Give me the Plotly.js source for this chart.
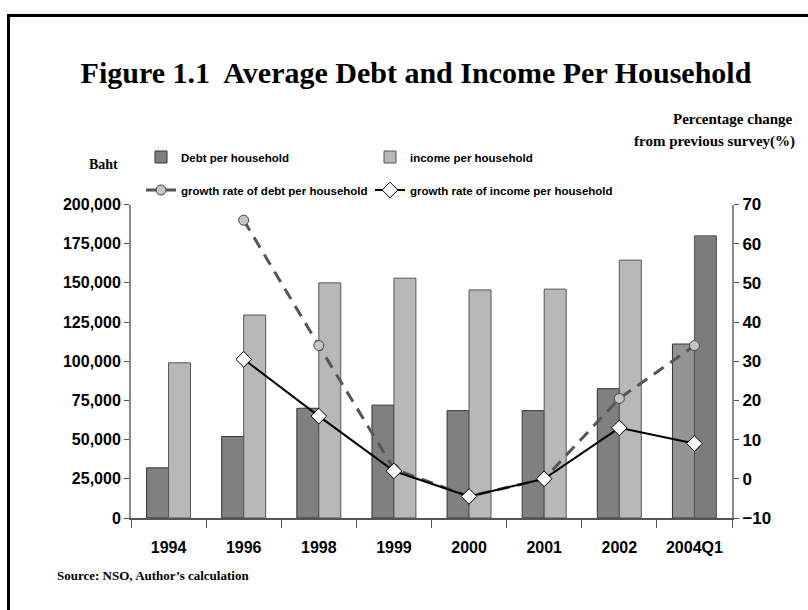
<!DOCTYPE html>
<html>
<head>
<meta charset="utf-8">
<script src="https://cdn.plot.ly/plotly-3.0.1.min.js"></script>
<style>
  html, body { margin: 0; padding: 0; background: #fff; overflow: hidden; }
  #wrap { position: relative; width: 808px; height: 610px; }
  #chart { position: absolute; left: 0; top: 0; width: 808px; height: 610px; }
  #frame { position: absolute; left: 7px; top: 14px; width: 900px; height: 900px;
           border-left: 3px solid #000; border-top: 3px solid #000; pointer-events: none; }
</style>
</head>
<body>
<div id="wrap">
  <div id="chart"></div>
  <div id="frame"></div>
</div>
<script>
// ---- data ----
const categories = ['1994', '1996', '1998', '1999', '2000', '2001', '2002', '2004Q1'];
const debtPerHousehold = [32000, 52000, 70000, 72000, 68500, 68500, 82500, 111000];
const incomePerHousehold = [99000, 129500, 150000, 153000, 145500, 146000, 164500, 180000];
const debtGrowth = [null, 66, 34, 2.5, -4.5, 0, 20.5, 34];
const incomeGrowth = [null, 30.5, 16, 2, -4.5, 0, 13, 9];
const leftTicks = [0, 25000, 50000, 75000, 100000, 125000, 150000, 175000, 200000];
const rightTicks = [-10, 0, 10, 20, 30, 40, 50, 60, 70];

const lastIdx = categories.length - 1;
const debtColors = categories.map((c, i) => i === lastIdx ? '#ababab' : '#808080');
const incomeColors = categories.map((c, i) => i === lastIdx ? '#8c8c8c' : '#b8b8b8');
const patternShapes = categories.map((c, i) => i === lastIdx ? '.' : '');
const debtPatternFg = categories.map((c, i) => i === lastIdx ? '#959595' : '#808080');
const incomePatternFg = categories.map((c, i) => i === lastIdx ? '#7a7a7a' : '#b8b8b8');

const sans = 'Liberation Sans, Arial, sans-serif';
const serif = 'Liberation Serif, Times New Roman, serif';

const traces = [
  {
    type: 'bar', name: 'Debt per household', x: categories, y: debtPerHousehold,
    marker: { color: debtColors, line: { color: '#333', width: 1 },
              pattern: { shape: patternShapes, bgcolor: debtColors, fgcolor: debtPatternFg,
                         fillmode: 'overlay', size: 2, solidity: 0.5 } },
    legend: 'legend', hoverinfo: 'skip'
  },
  {
    type: 'bar', name: 'income per household', x: categories, y: incomePerHousehold,
    marker: { color: incomeColors, line: { color: '#555', width: 1 },
              pattern: { shape: patternShapes, bgcolor: incomeColors, fgcolor: incomePatternFg,
                         fillmode: 'overlay', size: 2, solidity: 0.5 } },
    legend: 'legend2', hoverinfo: 'skip'
  },
  {
    type: 'scatter', mode: 'lines+markers', name: 'growth rate of debt per household',
    x: categories, y: debtGrowth, yaxis: 'y2',
    line: { color: '#555', width: 3, dash: '12px,8px' },
    marker: { symbol: 'circle', size: 10, color: '#c4c4c4', line: { color: '#444', width: 1 } },
    legend: 'legend3', hoverinfo: 'skip'
  },
  {
    type: 'scatter', mode: 'lines+markers', name: 'growth rate of income per household',
    x: categories, y: incomeGrowth, yaxis: 'y2',
    line: { color: '#000', width: 2 },
    marker: { symbol: 'diamond', size: 12, color: '#fff', line: { color: '#000', width: 1 } },
    legend: 'legend4', hoverinfo: 'skip'
  }
];

const legendCommon = {
  orientation: 'h', xref: 'container', yref: 'container', xanchor: 'left', yanchor: 'middle',
  bgcolor: 'rgba(0,0,0,0)', borderwidth: 0,
  font: { family: sans, size: 11.5, color: '#000', weight: 'bold' }, itemclick: false
};

const layout = {
  width: 808, height: 610,
  margin: { l: 131, r: 76, t: 199, b: 92 },
  paper_bgcolor: '#fff', plot_bgcolor: '#fff',
  barmode: 'group', bargap: 0.415, bargroupgap: 0,
  showlegend: true,
  title: {
    text: '<b>Figure 1.1  Average Debt and Income Per Household</b>',
    xref: 'container', yref: 'container', x: 416 / 808, xanchor: 'center',
    y: 1 - 72 / 610, yanchor: 'middle',
    font: { family: serif, size: 30, color: '#000' }
  },
  legend: Object.assign({}, legendCommon, { x: 141 / 808, y: 1 - 157 / 610 }),
  legend2: Object.assign({}, legendCommon, { x: 370 / 808, y: 1 - 157 / 610 }),
  legend3: Object.assign({}, legendCommon, { x: 141 / 808, y: 1 - 190 / 610 }),
  legend4: Object.assign({}, legendCommon, { x: 370 / 808, y: 1 - 190 / 610 }),
  xaxis: {
    type: 'category', categoryorder: 'array', categoryarray: categories,
    showgrid: false, zeroline: false,
    showline: true, linecolor: '#555', linewidth: 1.5,
    ticks: 'outside', tickson: 'boundaries', ticklen: 8, tickcolor: '#555', tickwidth: 1,
    ticklabelstandoff: 14,
    tickfont: { family: sans, size: 16, color: '#000', weight: 'bold' }
  },
  yaxis: {
    range: [0, 200000], tickvals: leftTicks, tickformat: ',d',
    showgrid: false, zeroline: false,
    showline: true, linecolor: '#888', linewidth: 2,
    ticks: 'outside', ticklen: 5, tickcolor: '#555', tickwidth: 1,
    tickfont: { family: sans, size: 16, color: '#000', weight: 'bold' }
  },
  yaxis2: {
    overlaying: 'y', side: 'right', range: [-10, 70], tickvals: rightTicks,
    showgrid: false, zeroline: false,
    showline: true, linecolor: '#888', linewidth: 2,
    ticks: 'outside', ticklen: 5, tickcolor: '#555', tickwidth: 1,
    tickfont: { family: sans, size: 17, color: '#000', weight: 'bold' }
  },
  annotations: [
    { text: '<b>Percentage change</b>', xref: 'paper', yref: 'paper', showarrow: false,
      x: (795 - 131) / 601, xanchor: 'right', y: 1 + (199 - 112) / 319, yanchor: 'middle',
      font: { family: serif, size: 15, color: '#000' } },
    { text: '<b>from previous survey(%)</b>', xref: 'paper', yref: 'paper', showarrow: false,
      x: (797 - 131) / 601, xanchor: 'right', y: 1 + (199 - 135) / 319, yanchor: 'middle',
      font: { family: serif, size: 15, color: '#000' } },
    { text: '<b>Baht</b>', xref: 'paper', yref: 'paper', showarrow: false,
      x: (103 - 131) / 601, xanchor: 'center', y: 1 + (199 - 158) / 319, yanchor: 'middle',
      font: { family: serif, size: 14, color: '#000' } },
    { text: '<b>Source: NSO, Author\u2019s calculation</b>', xref: 'paper', yref: 'paper', showarrow: false,
      x: (55 - 131) / 601, xanchor: 'left', y: -(577 - 518) / 319, yanchor: 'middle',
      font: { family: serif, size: 13, color: '#000' } }
  ]
};

Plotly.newPlot('chart', traces, layout, { staticPlot: true, displayModeBar: false });
</script>
</body>
</html>
